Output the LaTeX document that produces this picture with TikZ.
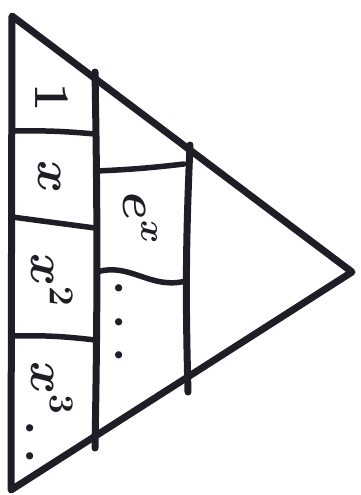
\RequirePackage{fix-cm}
\documentclass[tikz,border=0pt]{standalone}
\usepackage{tikz}
\usetikzlibrary{positioning}
\definecolor{ink}{HTML}{1F1D26}

\begin{document}
\begin{tikzpicture}[x=1pt, y=-1pt,
    outline/.style={draw=ink, line width=7pt, line cap=round, line join=round},
    rule/.style={draw=ink, line width=5.5pt, line cap=round},
    term/.style={font=\fontsize{50}{50}\selectfont\boldmath, text=ink, rotate=-90, inner sep=0pt},
    dots/.style={font=\fontsize{50}{50}\selectfont\bfseries, text=ink, rotate=-90, inner sep=0pt},
]
\useasboundingbox (0,0) rectangle (360,495);
% triangle
\coordinate (top) at (12,16);
\coordinate (apex) at (352,272);
\coordinate (bot) at (11,490);
\draw[outline] (top) -- (apex) -- (bot) -- cycle;
% columns
\coordinate (c1t) at (95,72);  \coordinate (c1b) at (95,448);
\coordinate (c2t) at (190,145); \coordinate (c2b) at (188,392);
\draw[outline] (c1t) to[bend left=1] (c1b);
\draw[outline] (c2t) to[bend right=2] (c2b);
% left cells
\coordinate (l1a) at (12,131);  \coordinate (l1b) at (95,134);
\coordinate (l2a) at (12,217);  \coordinate (l2b) at (95,228);
\coordinate (l3a) at (12,336);  \coordinate (l3b) at (95,340);
\draw[rule] (l1a) to[bend left=3] (l1b);
\draw[rule] (l2a) -- (l2b);
\draw[rule] (l3a) to[bend left=4] (l3b);
% middle cells
\coordinate (m1a) at (97,171);  \coordinate (m1b) at (184,164);
\coordinate (m2a) at (97,272);  \coordinate (m2b) at (186,281);
\draw[rule] (m1a) to[bend right=2] (m1b);
\draw[rule] (m2a) .. controls (130,262) and (150,290) .. (m2b);
% terms
\node[term] (one) at (52,98) {$1$};
\node[term] (x1) at (50,177) {$x$};
\node[term] (x2) at (52,280) {$x^2$};
\node[term] (x3) at (52,388) {$x^3$};
\node[dots] (ld) at (30,442) {.\hspace{12pt}.};
\node[term] (ex) at (140,218) {$e^x$};
\node[dots] (md) at (119,322) {.\hspace{18pt}.\hspace{18pt}.};
\end{tikzpicture}
\end{document}
